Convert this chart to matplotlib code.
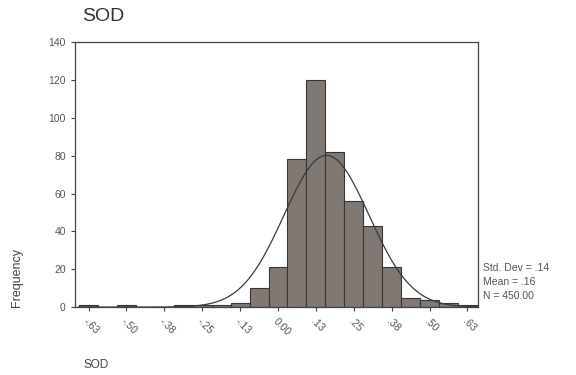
import matplotlib.pyplot as plt
import numpy as np

plt.rcParams['font.family'] = ['Liberation Sans', 'DejaVu Sans']

# Histogram of SOD, bin width .0625
bin_centers = np.arange(-0.625, 0.626, 0.0625)
counts = [1, 0, 1, 0, 0, 1, 1, 1, 2, 10, 21, 78, 120, 82, 56, 43, 21, 5, 4, 2, 1]
tick_values = [-0.625, -0.5, -0.375, -0.25, -0.125, 0.0, 0.125, 0.25, 0.375, 0.5, 0.625]
tick_labels = ['-.63', '-.50', '-.38', '-.25', '-.13', '0.00', '.13', '.25', '.38', '.50', '.63']
y_ticks = [0, 20, 40, 60, 80, 100, 120, 140]
mean, std, n = 0.16, 0.14, 450
bin_width = 0.0625

fig = plt.figure(figsize=(5.76, 3.75), dpi=100)
ax = fig.add_axes([0.130, 0.181, 0.700, 0.707])

ax.bar(bin_centers, counts, width=bin_width, color='#7f7873',
       edgecolor='#3b3636', linewidth=0.8, zorder=2)

# normal curve scaled to the counts
xs = np.linspace(-0.66, 0.66, 400)
ys = n * bin_width / (std * np.sqrt(2 * np.pi)) * np.exp(-0.5 * ((xs - mean) / std) ** 2)
ax.plot(xs, ys, color='#3a3a3a', linewidth=0.9, zorder=3)

ax.set_xlim(-0.67, 0.66)
ax.set_ylim(0, 140)
ax.set_yticks(y_ticks)
ax.set_yticklabels([str(v) for v in y_ticks], fontsize=7.5, color='#555555')
ax.set_xticks(tick_values)
ax.set_xticklabels(tick_labels, fontsize=7.5, color='#555555', rotation=-45,
                   ha='left', va='top', rotation_mode='anchor')
ax.tick_params(axis='both', length=3, width=0.8, color='#444444')
for s in ax.spines.values():
    s.set_color('#444444')
    s.set_linewidth(0.9)

fig.text(0.179, 0.955, 'SOD', fontsize=14, color='#333333', ha='center', va='center')
fig.text(0.03, 0.26, 'Frequency', fontsize=9, color='#444444', rotation=90,
         ha='center', va='center')
fig.text(0.167, 0.027, 'SOD', fontsize=8.5, color='#444444', ha='center', va='center')

stats = ['Std. Dev = .14', 'Mean = .16', 'N = 450.00']
for i, s in enumerate(stats):
    fig.text(0.838, 0.285 - i * 0.037, s, fontsize=7.5, color='#555555', ha='left', va='center')

fig.savefig('out.png', dpi=100, facecolor='white')
